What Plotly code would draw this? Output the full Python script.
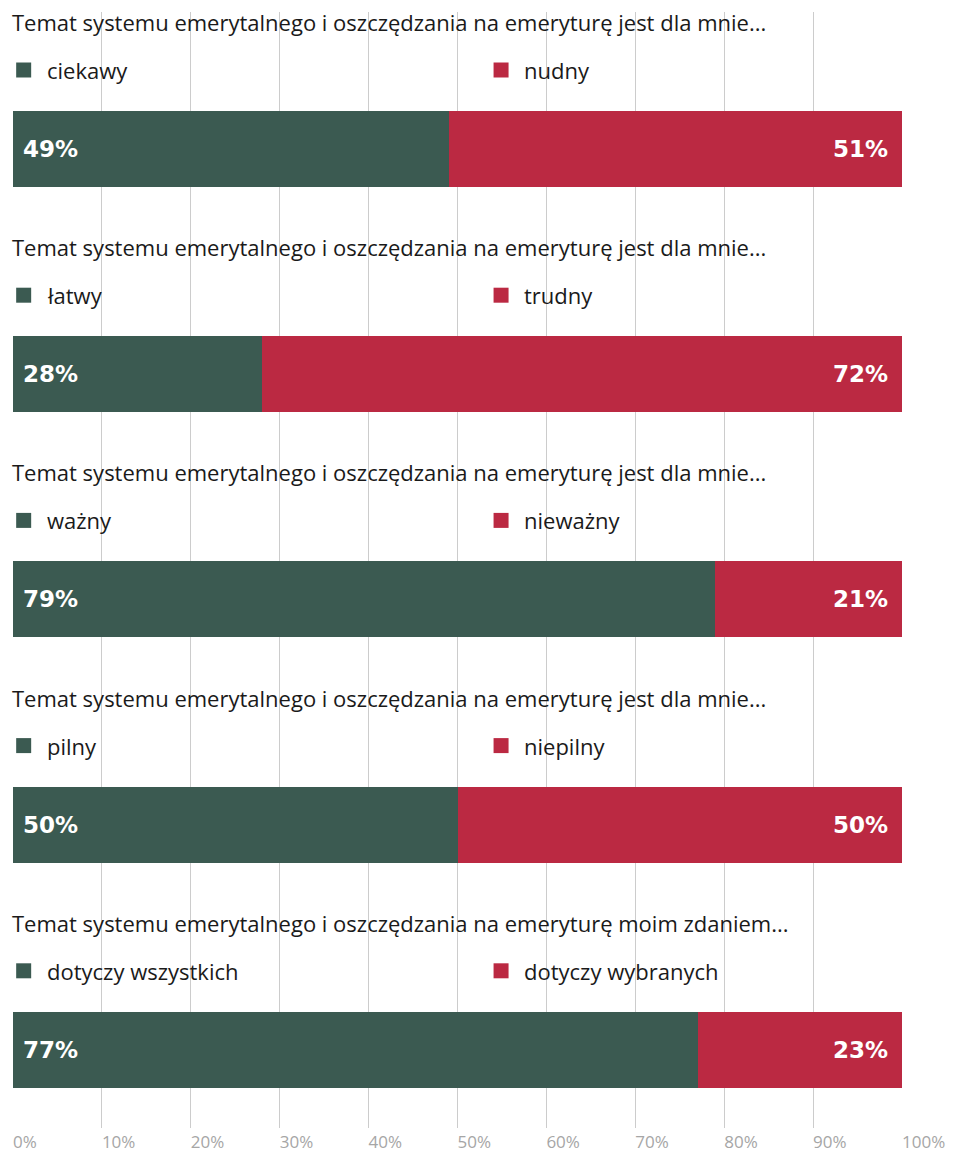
import plotly.graph_objects as go

titles = [
    "Temat systemu emerytalnego i oszczędzania na emeryturę jest dla mnie...",
    "Temat systemu emerytalnego i oszczędzania na emeryturę jest dla mnie...",
    "Temat systemu emerytalnego i oszczędzania na emeryturę jest dla mnie...",
    "Temat systemu emerytalnego i oszczędzania na emeryturę jest dla mnie...",
    "Temat systemu emerytalnego i oszczędzania na emeryturę moim zdaniem...",
]
left_labels = ["ciekawy", "łatwy", "ważny", "pilny", "dotyczy wszystkich"]
right_labels = ["nudny", "trudny", "nieważny", "niepilny", "dotyczy wybranych"]
left_values = [49, 28, 79, 50, 77]
right_values = [51, 72, 21, 50, 23]
tick_vals = [0, 10, 20, 30, 40, 50, 60, 70, 80, 90, 100]
tick_text = ["0%", "10%", "20%", "30%", "40%", "50%", "60%", "70%", "80%", "90%", "100%"]

GREEN = "#3B5A51"
RED = "#BB2942"
FONT = "Open Sans"
BOLD_FONT = "DejaVu Sans"

# layout in pixel-like units on the y axis (0 = top of plot area)
ROW = 225.2
bar_c = [137 + i * ROW for i in range(5)]
title_y = [10 + i * ROW for i in range(5)]
legend_y = [58 + i * ROW for i in range(5)]

fig = go.Figure()
fig.add_trace(go.Bar(x=left_values, y=bar_c, orientation="h", width=76,
                     marker=dict(color=GREEN, line=dict(width=0)), hoverinfo="skip"))
fig.add_trace(go.Bar(x=right_values, y=bar_c, orientation="h", width=76,
                     marker=dict(color=RED, line=dict(width=0)), hoverinfo="skip"))

# legend squares
fig.add_trace(go.Scatter(x=[1.2] * 5, y=legend_y, mode="markers",
                         marker=dict(symbol="square", size=15, color=GREEN), hoverinfo="skip"))
fig.add_trace(go.Scatter(x=[54.9] * 5, y=legend_y, mode="markers",
                         marker=dict(symbol="square", size=15, color=RED), hoverinfo="skip"))

ann = []
for i in range(5):
    ann.append(dict(x=0, y=title_y[i], xref="paper", yref="y", text=titles[i],
                    showarrow=False, xanchor="left", yanchor="middle", xshift=-3,
                    font=dict(family=FONT, size=22, color="#1a1a1a")))
    ann.append(dict(x=0, y=legend_y[i], xref="paper", yref="y", text=left_labels[i],
                    showarrow=False, xanchor="left", yanchor="middle", xshift=32,
                    font=dict(family=FONT, size=22, color="#1a1a1a")))
    ann.append(dict(x=54.9, y=legend_y[i], xref="x", yref="y", text=right_labels[i],
                    showarrow=False, xanchor="left", yanchor="middle", xshift=21,
                    font=dict(family=FONT, size=22, color="#1a1a1a")))
    ann.append(dict(x=0, y=bar_c[i], xref="x", yref="y", text=f"<b>{left_values[i]}%</b>",
                    showarrow=False, xanchor="left", yanchor="middle", xshift=8,
                    font=dict(family=BOLD_FONT, size=23, color="white")))
    ann.append(dict(x=100, y=bar_c[i], xref="x", yref="y", text=f"<b>{right_values[i]}%</b>",
                    showarrow=False, xanchor="right", yanchor="middle", xshift=-12,
                    font=dict(family=BOLD_FONT, size=23, color="white")))

fig.update_layout(
    width=955, height=1154,
    margin=dict(l=13, r=53, t=12, b=26),
    barmode="stack",
    showlegend=False,
    plot_bgcolor="white", paper_bgcolor="white",
    annotations=ann,
    xaxis=dict(range=[0, 100], tickvals=tick_vals, ticktext=tick_text,
               showgrid=True, gridcolor="#cccccc", gridwidth=1,
               zeroline=False, showline=False, ticks="",
               ticklabelposition="outside right", automargin=False,
               ticklabelstandoff=2,
               tickfont=dict(family=FONT, size=17, color="#a6a6a6"),
               fixedrange=True),
    yaxis=dict(range=[1116, 0], showgrid=False, zeroline=False, showticklabels=False,
               showline=False, fixedrange=True, automargin=False),
)

fig.write_html("out.html")
